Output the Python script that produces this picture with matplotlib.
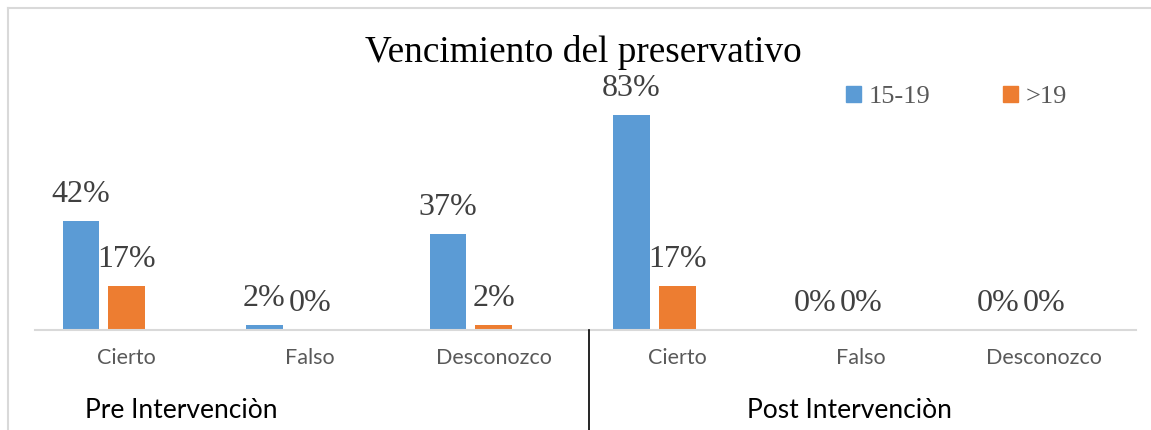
import numpy as np
import matplotlib.pyplot as plt
from matplotlib.lines import Line2D
from matplotlib.patches import Patch

categories = ['Cierto', 'Falso', 'Desconozco', 'Cierto', 'Falso', 'Desconozco']
groups = ['Pre Intervenciòn', 'Post Intervenciòn']
young = [42, 2, 37, 83, 0, 0]   # 15-19
older = [17, 0, 2, 17, 0, 0]    # >19

blue = '#5B9BD5'
orange = '#ED7D31'
gray = '#595959'

fig = plt.figure(figsize=(11.51, 4.30), dpi=100)
ax = fig.add_axes([35 / 1151, 1 - 330 / 430, 1101 / 1151, 259 / 430])

x = np.arange(len(categories))
w = 0.2
b1 = ax.bar(x - 0.25, young, w, color=blue, label='15-19')
b2 = ax.bar(x, older, w, color=orange, label='>19')

for bars, vals in ((b1, young), (b2, older)):
    for bar, v in zip(bars, vals):
        ax.annotate(f'{v}%', (bar.get_x() + bar.get_width() / 2, v),
                    xytext=(0, 13.5), textcoords='offset points',
                    ha='center', va='baseline', fontsize=23,
                    family='Liberation Serif', color='#404040')

ax.set_xlim(-0.5, len(categories) - 0.5)
ax.set_ylim(0, 100)
ax.set_xticks(x)
ax.set_xticklabels(categories, family='Lato', fontsize=15.5, color=gray)
ax.tick_params(axis='x', length=0, pad=13)
ax.set_yticks([])
for s in ['top', 'right', 'left']:
    ax.spines[s].set_visible(False)
ax.spines['bottom'].set_color('#D9D9D9')
ax.spines['bottom'].set_linewidth(1.5)

# divider between groups
fig.add_artist(Line2D([589 / 1151, 589 / 1151], [0, 1 - 330 / 430],
                      color='black', lw=1.2))

fig.text(85 / 1151, 1 - 410 / 430, groups[0], family='Lato', fontsize=19,
         color='black', va='center', ha='left')
fig.text(747 / 1151, 1 - 410 / 430, groups[1], family='Lato', fontsize=19,
         color='black', va='center', ha='left')

fig.text(583 / 1151, 1 - 53 / 430, 'Vencimiento del preservativo',
         family='Liberation Serif', fontsize=26.8, ha='center', va='center')

leg = fig.legend(handles=[Patch(color=blue), Patch(color=orange)],
                 labels=['15-19', '>19'], loc='center left',
                 bbox_to_anchor=(841 / 1151, 1 - 97 / 430), ncol=2,
                 frameon=False, handlelength=0.55, handleheight=0.55,
                 handletextpad=0.3, columnspacing=2.75,
                 borderpad=0.2, borderaxespad=0,
                 prop={'family': 'Liberation Serif', 'size': 19})
for t in leg.get_texts():
    t.set_color(gray)

# chart border (cropped at right/bottom)
fig.add_artist(Line2D([8 / 1151, 1], [1 - 8 / 430, 1 - 8 / 430], color='#D9D9D9', lw=1.5))
fig.add_artist(Line2D([8 / 1151, 8 / 1151], [0, 1 - 8 / 430], color='#D9D9D9', lw=1.5))

fig.savefig('out.png', dpi=100)
